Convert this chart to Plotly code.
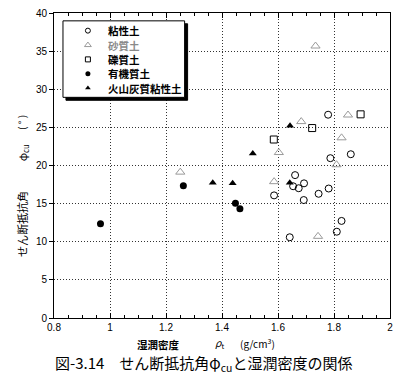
import plotly.graph_objects as go

# 粘性土 (clayey soil)
clay_x = [1.779, 1.860, 1.787, 1.661, 1.654, 1.674, 1.693, 1.586, 1.745, 1.781, 1.692, 1.827, 1.810, 1.642]
clay_y = [26.66, 21.48, 20.96, 18.74, 17.28, 17.02, 17.66, 16.08, 16.29, 16.98, 15.47, 12.73, 11.32, 10.59]
# 砂質土 (sandy soil)
sand_x = [1.734, 1.850, 1.683, 1.827, 1.603, 1.809, 1.586, 1.251, 1.743]
sand_y = [35.67, 26.62, 25.76, 23.63, 21.70, 20.10, 17.88, 19.13, 10.71]
# 礫質土 (gravelly soil)
grav_x = [1.895, 1.722, 1.585]
grav_y = [26.71, 24.91, 23.41]
# 有機質土 (organic soil)
org_x = [1.262, 0.966, 1.448, 1.464]
org_y = [17.36, 12.35, 15.05, 14.32]
# 火山灰質粘性土 (volcanic cohesive soil)
vol_x = [1.643, 1.510, 1.367, 1.438, 1.642]
vol_y = [25.21, 21.57, 17.75, 17.66, 17.75]

series_names = ["粘性土", "砂質土", "礫質土", "有機質土", "火山灰質粘性土"]

x_ticks = [0.8, 1.0, 1.2, 1.4, 1.6, 1.8, 2.0]
x_ticklabels = ["0.8", "1", "1.2", "1.4", "1.6", "1.8", "2"]
y_ticks = [0, 5, 10, 15, 20, 25, 30, 35, 40]
x_range = [0.8, 2.0]
y_range = [0, 40]

W, H = 400, 383
L, R, T, B = 54, 9, 7, 65
pw, ph = W - L - R, H - T - B

def px(x):
    return (x - L) / pw

def py(y):
    return (H - B - y) / ph

def dx(x):
    return x_range[0] + (x - L) / pw * (x_range[1] - x_range[0])

def dy(y):
    return y_range[0] + (H - B - y) / ph * (y_range[1] - y_range[0])

styles = [
    dict(symbol="circle-open", size=7, color="black", line=dict(width=1, color="black")),
    dict(symbol="triangle-up-open", size=8, color="#9a9a9a", line=dict(width=1, color="#9a9a9a")),
    dict(symbol="square-open", size=7, color="black", line=dict(width=1, color="black")),
    dict(symbol="circle", size=7, color="black"),
    dict(symbol="triangle-up", size=7, color="black"),
]
text_colors = ["black", "#8a8a8a", "black", "black", "black"]
data = [(clay_x, clay_y), (sand_x, sand_y), (grav_x, grav_y), (org_x, org_y), (vol_x, vol_y)]

fig = go.Figure()
for (xs, ys), nm, st in zip(data, series_names, styles):
    fig.add_trace(go.Scatter(x=xs, y=ys, mode="markers", name=nm, marker=st, showlegend=False))

# manual legend (pixel overlay axes)
leg_rows = [25, 39.7, 54.3, 69, 83.6]
leg_mx = 88
leg_tx = 106
for row, nm, st in zip(leg_rows, series_names, styles):
    s = dict(st)
    s["size"] = max(5, st["size"] - 2)
    fig.add_trace(go.Scatter(x=[leg_mx], y=[row], mode="markers", marker=s, showlegend=False,
                             xaxis="x2", yaxis="y2", hoverinfo="skip"))

tickfont = dict(family="Liberation Sans Narrow, Liberation Sans, Arial", size=10, color="black")

bx0, bx1, by0, by1 = 63, 185, 15, 93
shapes = [
    dict(type="rect", xref="x", yref="y",
         x0=dx(bx0 + 3), x1=dx(bx1 + 3), y0=dy(by0 + 3), y1=dy(by1 + 3),
         fillcolor="black", line=dict(color="black", width=1), layer="between"),
    dict(type="rect", xref="x", yref="y",
         x0=dx(bx0), x1=dx(bx1), y0=dy(by0), y1=dy(by1),
         fillcolor="white", line=dict(color="black", width=1), layer="between"),
]

jp = "Noto Sans CJK JP"

def ann(text, x, y, size, color="black", xanchor="center", angle=0):
    return dict(text=text, x=px(x), y=py(y), xref="paper", yref="paper",
                xanchor=xanchor, yanchor="middle", textangle=angle, showarrow=False,
                font=dict(family=jp, size=size, color=color))

annotations = []
for row, nm, col in zip(leg_rows, series_names, text_colors):
    annotations.append(ann("<b>" + nm + "</b>", leg_tx, row, 10.5, col, xanchor="left"))

annotations += [
    # y-axis title pieces
    ann("せん断抵抗角", 22, 222, 11, angle=-90),
    ann("φ<sub>cu</sub>", 22, 150, 11, angle=-90),
    ann("( ° )", 22, 119, 10, angle=-90),
    # x-axis title pieces
    ann("<b>湿潤密度</b>", 159, 345, 10.5),
    ann("<i>ρ</i><sub>t</sub>", 220, 343, 10.5),
    ann("(g/cm<sup>3</sup>)", 258, 344, 10),
    # caption
    ann("図-3.14　せん断抵抗角φ<sub>cu</sub>と湿潤密度の関係", 204, 364, 15),
]

fig.update_layout(
    width=W, height=H,
    margin=dict(l=L, r=R, t=T, b=B),
    paper_bgcolor="white", plot_bgcolor="white",
    showlegend=False,
    xaxis=dict(range=x_range, tickvals=x_ticks, ticktext=x_ticklabels,
               showline=True, linecolor="black", linewidth=1, mirror="allticks",
               ticks="inside", ticklen=5, tickcolor="black", ticklabelstandoff=0,
               minor=dict(dtick=0.05, ticks="inside", ticklen=3, tickcolor="black", showgrid=False),
               showgrid=True, gridcolor="#333333", gridwidth=1, griddash="1px,2px",
               zeroline=False, tickfont=tickfont),
    yaxis=dict(range=y_range, tickvals=y_ticks,
               showline=True, linecolor="black", linewidth=1, mirror=True,
               ticks="outside", ticklen=4, tickcolor="black",
               showgrid=True, gridcolor="#333333", gridwidth=1, griddash="1px,2px",
               zeroline=False, tickfont=tickfont),
    xaxis2=dict(overlaying="x", range=[L, W - R], visible=False, anchor="y2"),
    yaxis2=dict(overlaying="y", range=[H - B, T], visible=False, anchor="x2"),
    shapes=shapes,
    annotations=annotations,
)

fig.write_html("out.html", config={"displayModeBar": False},
               post_script="document.body.style.margin='0px';document.body.style.overflow='hidden';")
